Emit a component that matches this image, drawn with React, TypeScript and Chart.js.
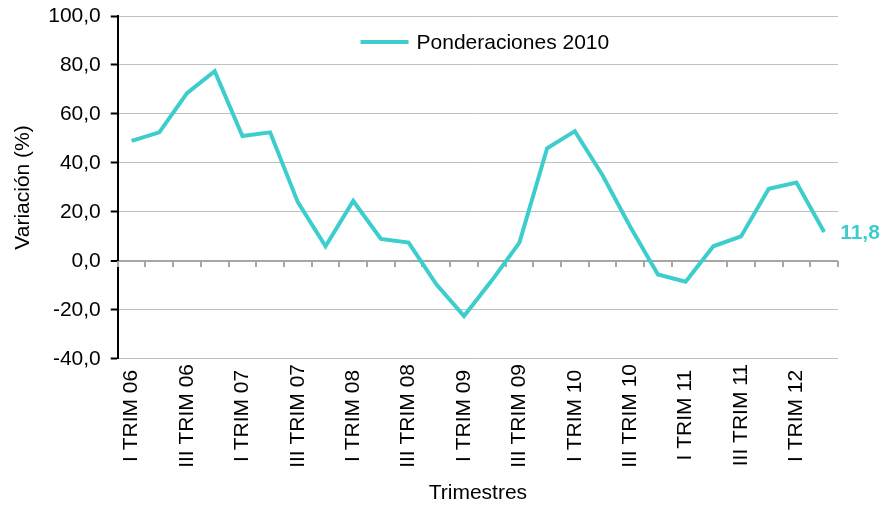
import React, { useEffect, useRef } from "react";
import { Chart, registerables } from "chart.js";

Chart.register(...registerables);

const categories = [
  "I TRIM 06", "II TRIM 06", "III TRIM 06", "IV TRIM 06",
  "I TRIM 07", "II TRIM 07", "III TRIM 07", "IV TRIM 07",
  "I TRIM 08", "II TRIM 08", "III TRIM 08", "IV TRIM 08",
  "I TRIM 09", "II TRIM 09", "III TRIM 09", "IV TRIM 09",
  "I TRIM 10", "II TRIM 10", "III TRIM 10", "IV TRIM 10",
  "I TRIM 11", "II TRIM 11", "III TRIM 11", "IV TRIM 11",
  "I TRIM 12", "II TRIM 12",
];

const ponderaciones2010 = [
  49.0, 52.5, 68.5, 77.5,
  51.0, 52.5, 24.0, 6.0,
  24.5, 9.0, 7.5, -9.5,
  -22.5, -8.0, 7.5, 46.0,
  53.0, 35.0, 14.0, -5.5,
  -8.5, 6.0, 10.0, 29.5,
  32.0, 11.8,
];

const seriesName = "Ponderaciones 2010";
const yTitle = "Variación (%)";
const xTitle = "Trimestres";

const FONT = "'Liberation Sans', Arial, sans-serif";
const FS = 21;
const TEAL = "#3ECDCD";

const fmt = (v: number) => v.toFixed(1).replace(".", ",");

const zeroTicksPlugin = {
  id: "zeroTicks",
  beforeDatasetsDraw(chart: any) {
    const xs = chart.scales.x;
    const ys = chart.scales.y;
    const ctx = chart.ctx;
    const n = categories.length;
    const step = xs.getPixelForValue(1) - xs.getPixelForValue(0);
    const y0 = ys.getPixelForValue(0);
    ctx.save();
    ctx.strokeStyle = "#a6a6a6";
    ctx.lineWidth = 2;
    ctx.beginPath();
    for (let i = 0; i <= n; i++) {
      const px = Math.round(xs.getPixelForValue(i) - step / 2);
      ctx.moveTo(px, y0);
      ctx.lineTo(px, y0 + 6);
    }
    ctx.stroke();
    ctx.restore();
  },
};

const legendPlugin = {
  id: "insideLegend",
  afterDraw(chart: any) {
    const ca = chart.chartArea;
    const ctx = chart.ctx;
    ctx.save();
    ctx.font = `${FS}px ${FONT}`;
    const tw = ctx.measureText(seriesName).width;
    const lineW = 48;
    const gap = 8;
    const total = lineW + gap + tw;
    const cx = (ca.left + ca.right) / 2 + 7;
    const x0 = cx - total / 2;
    const y = ca.top + 26;
    ctx.strokeStyle = TEAL;
    ctx.lineWidth = 4;
    ctx.beginPath();
    ctx.moveTo(x0, y);
    ctx.lineTo(x0 + lineW, y);
    ctx.stroke();
    ctx.fillStyle = "#000";
    ctx.textAlign = "left";
    ctx.textBaseline = "middle";
    ctx.fillText(seriesName, x0 + lineW + gap, y + 1);
    ctx.restore();
  },
};

const lastLabelPlugin = {
  id: "lastLabel",
  afterDatasetsDraw(chart: any) {
    const meta = chart.getDatasetMeta(0);
    const last = meta.data[meta.data.length - 1];
    const v = ponderaciones2010[ponderaciones2010.length - 1];
    const ctx = chart.ctx;
    ctx.save();
    ctx.font = `bold ${FS}px ${FONT}`;
    ctx.fillStyle = TEAL;
    ctx.textAlign = "left";
    ctx.textBaseline = "middle";
    ctx.fillText(fmt(v), last.x + 16, last.y + 1);
    ctx.restore();
  },
};

export default function App() {
  const ref = useRef<HTMLCanvasElement | null>(null);

  useEffect(() => {
    if (!ref.current) return;
    const chart = new Chart(ref.current, {
      type: "line",
      data: {
        labels: categories,
        datasets: [
          {
            label: seriesName,
            data: ponderaciones2010,
            borderColor: TEAL,
            backgroundColor: TEAL,
            borderWidth: 4,
            pointRadius: 0,
            pointHoverRadius: 0,
            tension: 0,
            fill: false,
          },
        ],
      },
      options: {
        animation: false,
        responsive: false,
        maintainAspectRatio: false,
        layout: { padding: { left: 7, right: 45, top: 0, bottom: 0 } },
        plugins: {
          tooltip: { enabled: false },
          legend: { display: false },
        },
        scales: {
          x: {
            offset: true,
            grid: { display: false, drawTicks: false },
            border: { display: false },
            ticks: {
              autoSkip: false,
              minRotation: 90,
              maxRotation: 90,
              padding: 5,
              color: "#000",
              font: { family: FONT, size: FS },
              callback: (_v: any, i: number) => {
                if (i % 2 !== 0) return "";
                const lab = categories[i];
                // Short labels get a trailing space so rotated labels sit centred like the original
                return lab.startsWith("I ") ? lab + " " : lab;
              },
            },
            title: {
              display: true,
              text: xTitle,
              color: "#000",
              font: { family: FONT, size: FS },
              padding: { top: 8, bottom: 0 },
            },
          },
          y: {
            min: -40,
            max: 100,
            afterFit: (scale: any) => {
              scale.paddingTop = 16;
            },
            border: { display: true, color: "#000", width: 2 },
            grid: {
              color: (c: any) => (c.tick && c.tick.value === 0 ? "#a6a6a6" : "#bfbfbf"),
              lineWidth: (c: any) => (c.tick && c.tick.value === 0 ? 2 : 1),
              tickColor: "#000",
              tickLength: 7,
              tickWidth: 2,
            },
            ticks: {
              stepSize: 20,
              padding: 10,
              color: "#000",
              font: { family: FONT, size: FS },
              callback: (v: any) => fmt(Number(v)),
            },
            title: {
              display: true,
              text: yTitle,
              color: "#000",
              font: { family: FONT, size: FS },
              padding: { top: 4, bottom: 2 },
            },
          },
        },
      },
      plugins: [zeroTicksPlugin, legendPlugin, lastLabelPlugin],
    });
    return () => chart.destroy();
  }, []);

  return (
    <div style={{ position: "absolute", left: 0, top: 0, width: 883, height: 506, background: "#fff" }}>
      <canvas ref={ref} width={883} height={506} style={{ width: 883, height: 506, display: "block" }} />
    </div>
  );
}
